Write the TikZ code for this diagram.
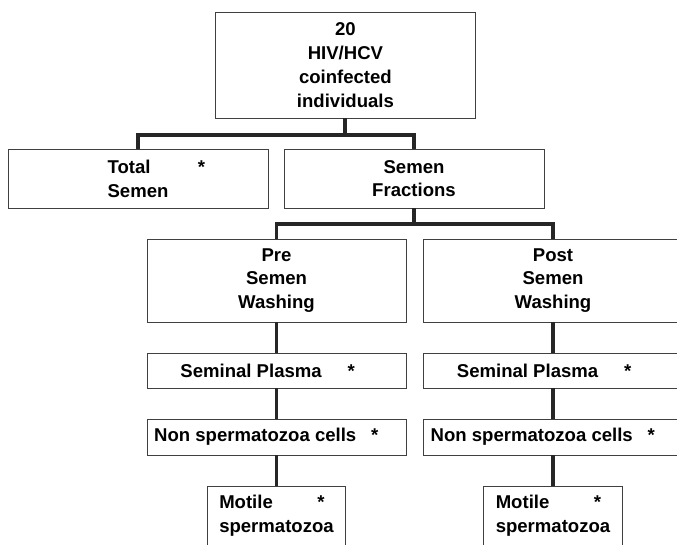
\documentclass[tikz,border=0pt]{standalone}
\usepackage{fontspec}
\setmainfont{Liberation Sans}
\usepackage{tikz}
\usetikzlibrary{positioning, calc}

\begin{document}
\begin{tikzpicture}[
  flowbox/.style={draw=black!75, line width=0.6pt, align=center, inner sep=2pt, minimum width=6.475cm, font=\fontsize{13.2pt}{16.9pt}\selectfont\bfseries},
  joinline/.style={line width=2.8pt, black!85}
]
  \useasboundingbox (0,0) rectangle (16.925,-13.6);
  \clip (0,0) rectangle (16.925,-13.6);

  % Patients
  \node[flowbox, minimum width=6.48cm, minimum height=2.65cm] (patients) at (8.635,-1.625) {20\\HIV/HCV\\coinfected\\individuals};

  % Second row
  \node[flowbox, minimum width=6.5cm, minimum height=1.475cm, align=left] (total) at (3.45,-4.4625) {Total\rlap{\hspace{2.55em}*}\\Semen};
  \node[flowbox, minimum width=6.5cm, minimum height=1.475cm] (fractions) at (10.35,-4.4625) {Semen\\Fractions};

  % Pre column
  \node[flowbox, minimum height=2.075cm] (pre) at (6.9125,-7.0125) {Pre\\Semen\\Washing};
  \node[flowbox, minimum height=0.875cm] (preplasma) at (6.9125,-9.2625) {Seminal Plasma\hspace{1.4em}*\hspace{0.95em}};
  \node[flowbox, minimum height=0.9cm] (precells) at (6.9125,-10.925) {Non spermatozoa cells\hspace{0.8em}*\hspace{1.1em}};
  \node[flowbox, minimum width=3.46cm, minimum height=1.475cm, align=left] (premotile) at (6.9125,-12.8875) {Motile\rlap{\hspace{2.4em}*}\\spermatozoa};

  % Post column
  \node[flowbox, minimum height=2.075cm] (post) at (13.825,-7.0125) {Post\\Semen\\Washing};
  \node[flowbox, minimum height=0.875cm] (postplasma) at (13.825,-9.2625) {Seminal Plasma\hspace{1.4em}*\hspace{0.95em}};
  \node[flowbox, minimum height=0.9cm] (postcells) at (13.825,-10.925) {Non spermatozoa cells\hspace{0.8em}*\hspace{1.1em}};
  \node[flowbox, minimum width=3.46cm, minimum height=1.475cm, align=left] (postmotile) at (13.825,-12.8875) {Motile\rlap{\hspace{2.4em}*}\\spermatozoa};

  % Connectors
  \coordinate (bar1) at (8.635,-3.375);
  \coordinate (bar2) at (10.35,-5.6);
  \draw[joinline] (patients.south) -- (bar1);
  \draw[joinline] (total.north) |- (bar1) -| (fractions.north);
  \draw[joinline] (fractions.south) -- (bar2);
  \draw[joinline] (pre.north) |- (bar2) -| (post.north);
  \draw[joinline] (pre.south) -- (preplasma.north);
  \draw[joinline] (preplasma.south) -- (precells.north);
  \draw[joinline] (precells.south) -- (premotile.north);
  \draw[joinline] (post.south) -- (postplasma.north);
  \draw[joinline] (postplasma.south) -- (postcells.north);
  \draw[joinline] (postcells.south) -- (postmotile.north);
\end{tikzpicture}
\end{document}
